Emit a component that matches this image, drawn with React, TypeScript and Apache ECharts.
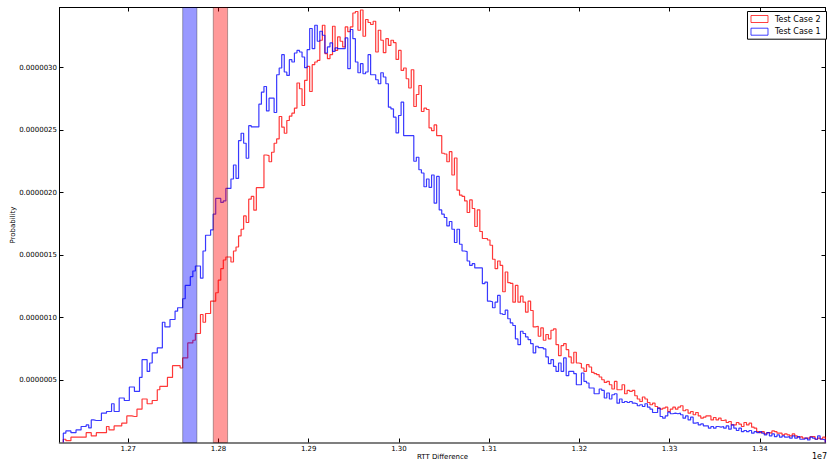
import React, { useEffect, useRef } from 'react';
import * as echarts from 'echarts';

// Histogram bins (raw RTT difference units)
const binStart = 12628000;
const binWidth = 2815;

// Probability values in units of 1e-8
const caseTwoE8 = [
  2.6, 1.5, 1.5, 4.3, 4.3, 4.3, 4.3, 4.3, 4.3, 7.9,
  7.9, 5.3, 5.3, 7.9, 7.9, 7.9, 7.9, 12.8, 10.1, 10.1,
  13.3, 13.3, 13.3, 15.5, 15.5, 21.3, 21.3, 20.8, 20.8, 26.7,
  26.7, 34.8, 34.8, 31.0, 31.0, 33.6, 33.6, 42.2, 44.9, 44.9,
  44.9, 52.1, 52.1, 61.5, 61.5, 61.5, 59.6, 67.7, 67.7, 79.7,
  79.7, 81.8, 87.2, 87.2, 102.4, 96.2, 103.2, 103.2, 113.1, 113.1,
  119.8, 129.9, 139.1, 146.0, 148.4, 148.4, 144.4, 153.2, 156.4, 165.3,
  170.6, 181.3, 176.0, 194.7, 196.9, 185.9, 203.9, 203.9, 203.9, 230.0,
  229.5, 224.6, 232.2, 239.4, 242.9, 260.8, 252.3, 247.4, 257.6, 261.1,
  263.5, 267.5, 287.6, 283.0, 269.6, 289.7, 300.9, 280.8, 302.3, 304.4,
  305.7, 321.8, 333.8, 311.1, 307.1, 310.3, 333.0, 313.7, 324.5, 321.0,
  316.5, 332.5, 328.7, 332.5, 343.6, 344.8, 329.8, 346.0, 325.0, 338.4,
  336.0, 334.4, 337.0, 312.4, 329.8, 321.8, 311.9, 323.1, 317.7, 321.8,
  319.9, 306.5, 313.7, 297.7, 299.6, 291.0, 283.6, 298.2, 268.8, 278.4,
  285.6, 264.8, 267.5, 266.4, 251.7, 249.5, 254.1, 245.5, 245.5, 231.4,
  230.8, 224.6, 232.7, 214.0, 227.6, 201.9, 197.9, 196.9, 193.3, 184.0,
  194.1, 187.2, 172.8, 186.1, 168.8, 163.2, 163.2, 162.0, 157.8, 146.6,
  139.1, 145.2, 141.7, 120.6, 136.4, 127.9, 127.3, 112.3, 125.7, 112.3,
  117.1, 112.3, 104.3, 113.1, 105.6, 92.5, 93.0, 85.0, 91.7, 81.8,
  86.4, 82.9, 89.8, 90.9, 78.3, 69.5, 77.5, 79.1, 74.3, 68.5,
  63.6, 72.2, 63.6, 63.1, 59.6, 56.9, 62.3, 60.4, 56.1, 55.1,
  54.3, 52.4, 50.2, 48.1, 48.9, 46.2, 42.8, 48.9, 42.2, 42.2,
  46.2, 39.0, 41.7, 40.9, 41.7, 37.4, 34.8, 32.8, 36.4, 34.8,
  32.0, 30.2, 31.5, 28.8, 27.5, 26.7, 27.5, 28.3, 24.8, 26.7,
  28.3, 26.7, 28.3, 29.4, 25.4, 26.2, 23.5, 24.8, 22.2, 24.0,
  21.3, 19.5, 20.3, 21.3, 21.3, 18.1, 20.0, 18.1, 19.5, 17.6,
  18.1, 16.0, 16.8, 14.1, 14.1, 16.0, 14.7, 12.8, 16.0, 14.1,
  15.5, 12.3, 11.5, 8.7, 7.9, 8.7, 6.9, 7.9, 7.5, 9.3,
  8.7, 7.5, 7.5, 6.1, 6.9, 6.1, 5.3, 6.9, 5.3, 4.3,
  4.7, 3.5, 3.5, 3.5, 4.7, 4.7, 2.6, 3.5, 2.9, 4.3,
];

const caseOneE8 = [
  7.5, 9.3, 9.3, 7.9, 7.9, 10.1, 10.1, 12.8, 12.8, 14.1,
  11.7, 18.1, 17.6, 17.6, 17.6, 23.5, 23.5, 24.8, 24.8, 31.0,
  24.8, 24.8, 35.6, 35.6, 33.6, 33.6, 44.4, 44.4, 40.9, 40.9,
  52.1, 66.3, 66.3, 56.9, 63.6, 71.7, 71.7, 75.7, 75.7, 96.2,
  92.5, 92.5, 98.4, 98.4, 105.1, 107.8, 107.8, 115.0, 125.7, 125.7,
  132.7, 137.2, 141.2, 141.2, 131.5, 153.2, 165.8, 165.8, 170.1, 182.7,
  195.3, 195.3, 192.1, 193.3, 203.3, 203.3, 210.8, 222.0, 211.3, 241.5,
  247.4, 239.4, 227.4, 253.5, 252.5, 252.5, 252.5, 270.7, 280.3, 284.8,
  265.3, 275.5, 275.5, 264.0, 294.2, 299.6, 310.3, 296.4, 293.7, 306.3,
  304.4, 311.6, 313.7, 312.4, 308.4, 299.9, 314.3, 331.2, 315.1, 333.8,
  321.0, 329.0, 325.8, 311.6, 316.5, 319.7, 312.9, 315.7, 315.1, 315.1,
  315.1, 323.7, 299.1, 330.4, 323.1, 304.4, 295.8, 303.1, 295.0, 296.4,
  310.3, 294.2, 294.2, 290.2, 287.0, 295.8, 292.4, 287.0, 268.3, 266.9,
  260.3, 247.7, 261.6, 272.3, 245.5, 245.5, 245.5, 245.5, 225.0, 228.2,
  218.2, 215.6, 204.6, 210.8, 204.1, 214.0, 191.5, 212.9, 186.1, 182.7,
  180.0, 173.3, 176.8, 170.6, 160.0, 170.6, 158.6, 153.2, 152.7, 145.2,
  141.7, 143.1, 139.7, 139.7, 139.7, 127.1, 128.3, 113.1, 112.6, 107.8,
  112.3, 117.7, 103.0, 102.4, 105.9, 99.0, 95.7, 93.6, 82.9, 78.3,
  89.0, 87.2, 84.5, 82.3, 79.1, 71.7, 77.0, 75.9, 75.9, 74.9,
  68.5, 63.1, 66.3, 60.9, 56.9, 63.6, 56.9, 67.7, 53.5, 56.9,
  56.9, 55.1, 46.2, 46.2, 55.6, 48.9, 47.6, 43.6, 43.6, 39.0,
  39.0, 42.8, 41.7, 35.6, 39.6, 34.8, 38.2, 39.0, 31.5, 34.8,
  32.0, 32.8, 32.0, 32.8, 31.5, 31.0, 29.4, 30.2, 28.8, 31.0,
  28.3, 26.7, 24.0, 24.0, 27.5, 20.8, 19.5, 21.3, 24.3, 23.0,
  23.5, 23.0, 23.5, 22.2, 19.5, 21.3, 18.1, 20.3, 15.5, 16.0,
  14.1, 14.9, 13.3, 13.3, 11.5, 12.8, 11.5, 12.8, 12.3, 12.8,
  11.5, 13.3, 10.7, 14.1, 11.5, 9.6, 11.5, 8.7, 9.6, 8.7,
  9.6, 7.5, 8.7, 7.9, 8.7, 7.5, 6.1, 7.9, 5.3, 6.9,
  4.7, 6.1, 4.3, 5.3, 4.3, 4.7, 3.5, 5.3, 3.5, 4.7,
  2.6, 2.6, 3.5, 2.1, 4.3, 3.5, 2.6, 5.3, 2.6, 2.1,
];

const xTicks = [12700000, 12800000, 12900000, 13000000, 13100000, 13200000, 13300000, 13400000];
const yTicks = [5e-7, 1e-6, 1.5e-6, 2e-6, 2.5e-6, 3e-6];
const bandStarts = [12760300, 12794200];
const bandEnds = [12776100, 12810100];
const bandFills = ['rgba(0,0,255,0.4)', 'rgba(255,0,0,0.4)'];

const xMin = 12623770;
const xMax = 13472800;
const yMax = 3.48e-6;
const FONT = 'DejaVu Sans';

function stepPoints(vals: number[]): number[][] {
  const pts: number[][] = [[binStart, 0]];
  vals.forEach((v, i) => pts.push([binStart + i * binWidth, v * 1e-8]));
  const end = binStart + vals.length * binWidth;
  pts.push([end, vals[vals.length - 1] * 1e-8]);
  pts.push([end, 0]);
  return pts;
}

export default function App() {
  const ref = useRef<HTMLDivElement>(null);
  useEffect(() => {
    if (!ref.current) return;
    const chart = echarts.init(ref.current, null, { renderer: 'svg' });
    const tickLabel = { fontSize: 7, color: '#000', fontFamily: FONT };
    chart.setOption({
      animation: false,
      backgroundColor: '#fff',
      grid: { left: 59.5, right: 3.5, top: 7.5, bottom: 19.5, containLabel: false, outerBoundsMode: 'none' },
      legend: {
        orient: 'vertical',
        right: 2.5,
        top: 11.5,
        icon: 'rect',
        itemWidth: 17,
        itemHeight: 7,
        itemGap: 3.7,
        padding: [3, 6, 3, 3],
        backgroundColor: '#fff',
        borderColor: '#000',
        borderWidth: 1,
        borderRadius: 0,
        textStyle: { fontSize: 8, color: '#000', fontFamily: FONT, lineHeight: 9, padding: [0, 0, 0, 2] },
        data: [
          { name: 'Test Case 2', itemStyle: { color: 'rgba(255,255,255,0)', borderColor: 'rgba(255,0,0,0.75)', borderWidth: 1 } },
          { name: 'Test Case 1', itemStyle: { color: 'rgba(255,255,255,0)', borderColor: 'rgba(0,0,255,0.75)', borderWidth: 1 } },
        ],
      },
      xAxis: [
        {
          type: 'value', min: xMin, max: xMax, position: 'bottom',
          axisLine: { show: true, onZero: false, lineStyle: { color: '#555', width: 1.5 } },
          axisTick: { show: true, inside: true, length: 4, customValues: xTicks, lineStyle: { color: '#000' } },
          axisLabel: { ...tickLabel, margin: 3, customValues: xTicks, formatter: (v: number) => (v / 1e7).toFixed(2) },
          splitLine: { show: false },
          name: 'RTT Difference', nameLocation: 'middle', nameGap: 11, nameMoveOverlap: false,
          nameTextStyle: { fontSize: 7, color: '#000', fontFamily: FONT },
        },
        {
          type: 'value', min: xMin, max: xMax, position: 'top',
          axisLine: { show: true, onZero: false, lineStyle: { color: '#000', width: 1 } },
          axisTick: { show: true, inside: true, length: 4, customValues: xTicks, lineStyle: { color: '#000' } },
          axisLabel: { show: false },
          splitLine: { show: false },
        },
      ],
      yAxis: [
        {
          type: 'value', min: 0, max: yMax, position: 'left',
          axisLine: { show: true, onZero: false, lineStyle: { color: '#000', width: 1 } },
          axisTick: { show: true, inside: true, length: 4, customValues: yTicks, lineStyle: { color: '#000' } },
          axisLabel: { ...tickLabel, margin: 2.5, customValues: yTicks, formatter: (v: number) => v.toFixed(7) },
          splitLine: { show: false },
          name: 'Probability', nameLocation: 'middle', nameGap: 43, nameMoveOverlap: false,
          nameTextStyle: { fontSize: 7, color: '#000', fontFamily: FONT },
        },
        {
          type: 'value', min: 0, max: yMax, position: 'right',
          axisLine: { show: true, onZero: false, lineStyle: { color: '#000', width: 1 } },
          axisTick: { show: true, inside: true, length: 4, customValues: yTicks, lineStyle: { color: '#000' } },
          axisLabel: { show: false },
          splitLine: { show: false },
        },
      ],
      series: [
        {
          name: 'Test Case 2', type: 'line', step: 'end', xAxisIndex: 0, yAxisIndex: 0,
          data: stepPoints(caseTwoE8), showSymbol: false, symbol: 'none', z: 2,
          lineStyle: { color: 'rgba(255,0,0,0.78)', width: 1.2 },
          itemStyle: { color: 'rgba(255,0,0,0.78)' },
        },
        {
          name: 'Test Case 1', type: 'line', step: 'end', xAxisIndex: 0, yAxisIndex: 0,
          data: stepPoints(caseOneE8), showSymbol: false, symbol: 'none', z: 3,
          lineStyle: { color: 'rgba(0,0,255,0.78)', width: 1.2 },
          itemStyle: { color: 'rgba(0,0,255,0.78)' },
        },
        {
          name: 'bands', type: 'custom', xAxisIndex: 0, yAxisIndex: 0, z: 10, silent: true,
          data: bandStarts.map((s, i) => [s, 0, bandEnds[i]]),
          encode: { x: 0, y: 1 },
          renderItem: (params: any, api: any) => {
            const a = api.coord([api.value(0), yMax]);
            const b = api.coord([api.value(2), 0]);
            return {
              type: 'rect',
              shape: { x: a[0], y: a[1], width: b[0] - a[0], height: b[1] - a[1] },
              style: { fill: bandFills[params.dataIndex], stroke: 'rgba(0,0,0,0.3)', lineWidth: 1 },
            };
          },
        },
      ],
      graphic: [
        { type: 'text', right: 2, top: 452, style: { text: '1e7', fontSize: 8, fill: '#000', fontFamily: FONT } },
      ],
    });
    return () => chart.dispose();
  }, []);
  return <div ref={ref} style={{ position: 'fixed', left: 0, top: 0, width: 829, height: 462 }} />;
}
